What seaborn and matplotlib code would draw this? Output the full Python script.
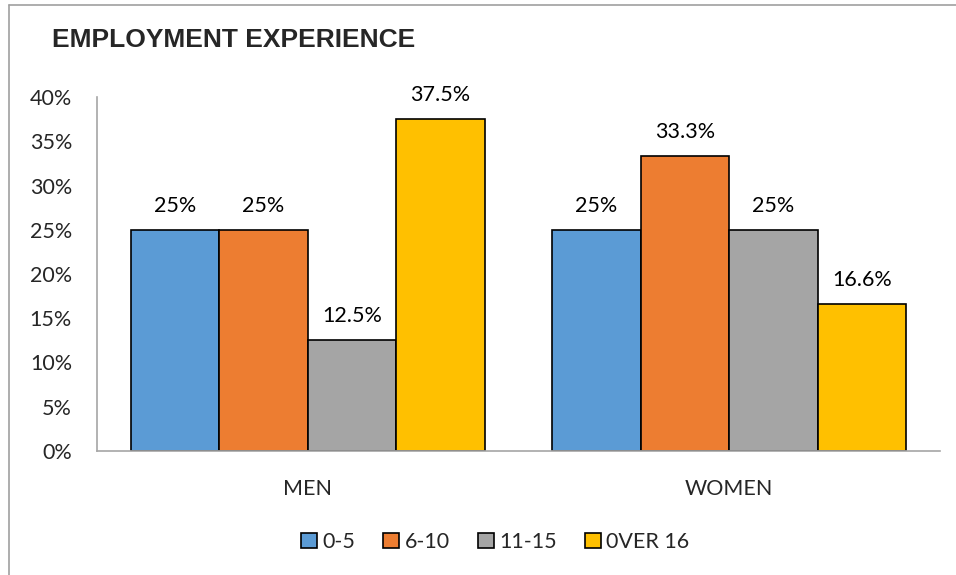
import matplotlib
matplotlib.use("Agg")
import matplotlib.pyplot as plt
import seaborn as sns
import pandas as pd
from matplotlib.lines import Line2D

groups = ["MEN", "WOMEN"]
series = ["0-5", "6-10", "11-15", "0VER 16"]
men_values = [25, 25, 12.5, 37.5]
women_values = [25, 33.3, 25, 16.6]
colors = ["#5B9BD5", "#ED7D31", "#A5A5A5", "#FFC000"]
yticks = [0, 5, 10, 15, 20, 25, 30, 35, 40]
title = "EMPLOYMENT EXPERIENCE"

rows = []
for g, vals in zip(groups, [men_values, women_values]):
    for s, v in zip(series, vals):
        rows.append({"group": g, "series": s, "value": v})
df = pd.DataFrame(rows)

sns.set_theme(style="white")
plt.rcParams["font.family"] = ["Lato", "DejaVu Sans"]

FS = 15.5

fig = plt.figure(figsize=(9.56, 5.75), dpi=100)
ax = fig.add_axes([97 / 956, 1 - 451 / 575, (940 - 97) / 956, (451 - 97) / 575])

sns.barplot(data=df, x="group", y="value", hue="series", order=groups,
            hue_order=series, palette=colors, saturation=1, edgecolor="black",
            linewidth=1.2, width=0.84, gap=0, ax=ax, legend=False)

for cont in ax.containers:
    labels = [f"{bar.get_height():g}%" for bar in cont]
    ax.bar_label(cont, labels=labels, padding=10, fontsize=FS, color="#000000")

ax.set_xlim(-0.5, 1.5)
ax.set_ylim(0, 40)
ax.set_yticks(yticks)
ax.set_yticklabels([f"{t}%" for t in yticks], fontsize=FS)
ax.tick_params(axis="y", length=0, pad=18)
ax.tick_params(axis="x", length=0, pad=20, labelsize=FS)
ax.set_xlabel("")
ax.set_ylabel("")
for side in ["top", "right"]:
    ax.spines[side].set_visible(False)
for side in ["left", "bottom"]:
    ax.spines[side].set_color("#A6A6A6")
    ax.spines[side].set_linewidth(1.2)

fig.text(52 / 956, 1 - 47 / 575, title, fontsize=19, fontweight="bold",
         family=["Liberation Sans Narrow", "Liberation Sans", "DejaVu Sans"],
         ha="left", va="baseline")

handles = [plt.Rectangle((0, 0), 1, 1, facecolor=c, edgecolor="black", linewidth=1.2)
           for c in colors]
fig.legend(handles, series, loc="center", bbox_to_anchor=(495 / 956, 1 - 542 / 575),
           ncol=4, frameon=False, fontsize=FS, handlelength=0.75, handleheight=0.75,
           handletextpad=0.25, columnspacing=1.3)

# chart frame (top and left edges)
fig.add_artist(Line2D([9 / 956, 1.0], [1 - 5 / 575, 1 - 5 / 575], color="#A0A0A0", lw=1.2))
fig.add_artist(Line2D([9 / 956, 9 / 956], [0, 1 - 5 / 575], color="#A0A0A0", lw=1.2))

fig.savefig("out.png", dpi=100, facecolor="white")
